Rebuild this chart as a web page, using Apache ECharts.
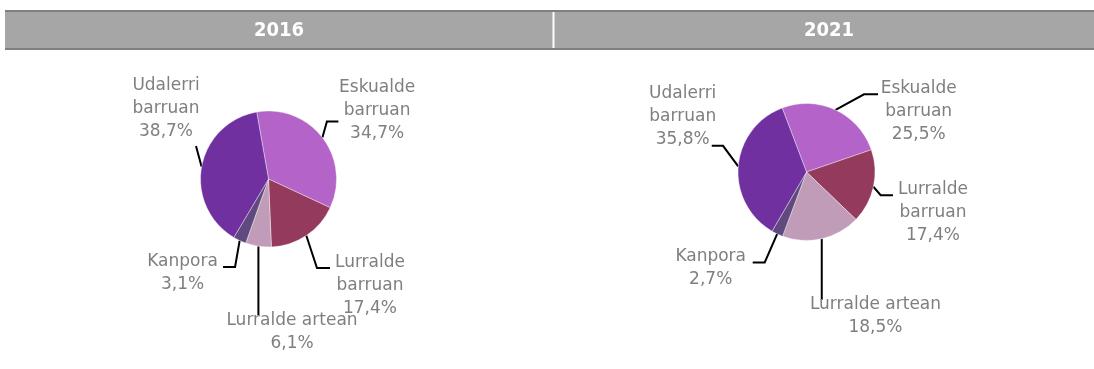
<!DOCTYPE html>
<html>
<head>
<meta charset="utf-8">
<script src="https://cdn.jsdelivr.net/npm/echarts@6/dist/echarts.min.js"></script>
<style>
  html, body { margin: 0; padding: 0; background: #ffffff; }
  #chart { width: 1094px; height: 369px; }
</style>
</head>
<body>
<div id="chart"></div>
<script>
// Commuting destinations, share of residents (%)
const years = ['2016', '2021'];
const categories = ['Eskualde barruan', 'Lurralde barruan', 'Lurralde artean', 'Kanpora', 'Udalerri barruan'];
const share2016 = [34.7, 17.4, 6.1, 3.1, 38.7];
const share2021 = [25.5, 17.4, 18.5, 2.7, 35.8];

const sliceColors = ['#B463C8', '#943A5D', '#C19CB8', '#5F497E', '#7030A0'];

// Leader-line geometry per slice, relative to the slice's outer midpoint:
// elbow offset, horizontal run after the elbow, label-centre offset from the line end.
const guides2016 = [
  { elbow: [4.5, -16], run: 11.5, label: [38.7, -11] },
  { elbow: [10.7, 32.5], run: 13, label: [40, 18] },
  { elbow: [0, 69], run: 0, label: [33.6, 17] },
  { elbow: [-4.6, 26.4], run: -12, label: [-40.5, 6.5] },
  { elbow: [-5.6, -20.8], run: 0, label: [-30, -37] }
];
const guides2021 = [
  { elbow: [28.4, -15.7], run: 14, label: [40.7, 17.4] },
  { elbow: [7.3, 8.4], run: 12.3, label: [40, 17] },
  { elbow: [0, 61], run: 0, label: [53.7, 16] },
  { elbow: [-12.5, 28.6], run: -12, label: [-42, 6] },
  { elbow: [-15.2, -20.6], run: -11.3, label: [-29, -29.3] }
];

const fmt = v => v.toFixed(1).replace('.', ',') + '%';
const wrapName = n => n.replace(' barruan', '\nbarruan');

function makeLayout(guides) {
  return function (params) {
    const pts = params.labelLinePoints;
    if (!pts) return {};
    const g = guides[params.dataIndex];
    const p0 = pts[0];
    const p1 = [p0[0] + g.elbow[0], p0[1] + g.elbow[1]];
    const p2 = [p1[0] + g.run, p1[1]];
    return {
      x: p2[0] + g.label[0],
      y: p2[1] + g.label[1],
      align: 'center',
      verticalAlign: 'middle',
      labelLinePoints: [p0, p1, p2]
    };
  };
}

function pieSeries(values, center, radius, startAngle, guides) {
  return {
    type: 'pie',
    center: center,
    radius: radius,
    startAngle: startAngle,
    clockwise: true,
    avoidLabelOverlap: false,
    animation: false,
    data: categories.map((c, i) => ({
      name: c,
      value: values[i],
      itemStyle: { color: sliceColors[i] }
    })),
    itemStyle: { borderColor: 'rgba(255,255,255,0.55)', borderWidth: 0.7 },
    label: {
      show: true,
      position: 'outside',
      formatter: p => wrapName(p.name) + '\n' + fmt(p.value),
      color: '#7F7F7F',
      fontFamily: 'DejaVu Sans',
      fontSize: 17,
      lineHeight: 23,
      align: 'center'
    },
    labelLine: {
      show: true,
      length: 15,
      length2: 10,
      lineStyle: { color: '#000000', width: 2 }
    },
    labelLayout: makeLayout(guides),
    emphasis: { disabled: true }
  };
}

const chart = echarts.init(document.getElementById('chart'), null, { renderer: 'canvas' });

chart.setOption({
  backgroundColor: '#ffffff',
  graphic: [
    { type: 'rect', silent: true, shape: { x: 5, y: 10, width: 1100, height: 40 }, style: { fill: '#808080' } },
    { type: 'rect', silent: true, shape: { x: 5, y: 12, width: 1100, height: 36 }, style: { fill: '#A6A6A6' } },
    { type: 'rect', silent: true, shape: { x: 552.5, y: 12, width: 2, height: 36 }, style: { fill: '#FFFFFF' } },
    {
      type: 'text', silent: true, x: 279, y: 31,
      style: { text: years[0], fill: '#FFFFFF', font: 'bold 20px "DejaVu Sans Condensed", "DejaVu Sans"', align: 'center', verticalAlign: 'middle' }
    },
    {
      type: 'text', silent: true, x: 829, y: 31,
      style: { text: years[1], fill: '#FFFFFF', font: 'bold 20px "DejaVu Sans Condensed", "DejaVu Sans"', align: 'center', verticalAlign: 'middle' }
    }
  ],
  series: [
    pieSeries(share2016, [268.5, 179], 68, 100, guides2016),
    pieSeries(share2021, [806.5, 172], 68.5, 110.8, guides2021)
  ]
});
</script>
</body>
</html>
